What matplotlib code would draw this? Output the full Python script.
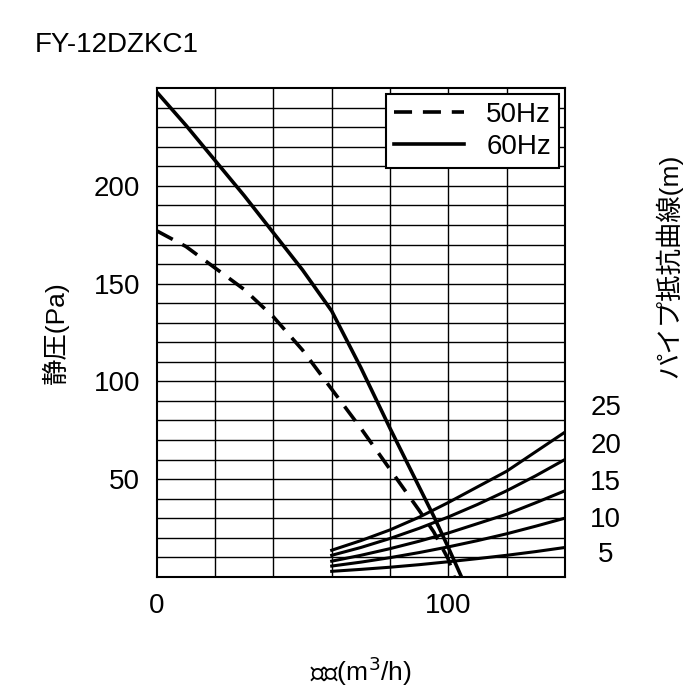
import matplotlib
matplotlib.use("Agg")
import matplotlib.pyplot as plt

plt.rcParams['font.family'] = ['Liberation Sans', 'Noto Sans CJK JP', 'DejaVu Sans']

q60 = [0, 10, 20, 30, 40, 50, 60, 70, 80, 90, 95, 100, 104.5]
p60 = [248, 231, 213, 195, 176, 157, 136, 107, 76, 46, 31, 15, 0]
q50 = [0, 10, 20, 30, 40, 50, 60, 70, 80, 90, 95, 100, 102]
p50 = [177, 169, 158, 147, 133, 116, 96, 76, 55, 34, 23, 9, 0]
pipe_q = [60, 70, 80, 90, 100, 110, 120, 130, 140]
pipe = {
    "25": [13.6, 18.5, 24, 30.5, 38, 46, 54, 64, 74],
    "20": [11, 15, 19.6, 24.8, 30.6, 37, 44, 51.7, 60],
    "15": [8, 11, 14.4, 18.2, 22.4, 27.2, 32, 37.9, 44],
    "10": [5.5, 7.5, 9.8, 12.4, 15.3, 18.5, 22, 25.9, 30],
    "5": [2.8, 3.8, 4.9, 6.2, 7.7, 9.3, 11, 12.9, 15],
}
pipe_label_y = [0.345, 0.268, 0.192, 0.117, 0.045]

fig = plt.figure(figsize=(7, 7), dpi=100)
ax = fig.add_axes([0.224, 0.176, 0.583, 0.698])
ax.set_xlim(0, 140)
ax.set_ylim(0, 250)
for x in range(20, 140, 20):
    ax.axvline(x, color='black', lw=1)
for y in range(10, 250, 10):
    ax.axhline(y, color='black', lw=1)
ax.plot(q50, p50, 'k--', lw=2.6, label='50Hz', dashes=(5, 3))
ax.plot(q60, p60, 'k-', lw=2.6, label='60Hz')
for k, v in pipe.items():
    ax.plot(pipe_q, v, 'k-', lw=2.2)
for (k, _), yy in zip(pipe.items(), pipe_label_y):
    ax.text(1.1, yy, k, transform=ax.transAxes, fontsize=20, ha='center', va='center')
ax.set_xticks([0, 100])
ax.set_yticks([50, 100, 150, 200])
ax.tick_params(length=0, labelsize=20, pad=12)
for s in ax.spines.values():
    s.set_linewidth(1.5)
leg = ax.legend(loc='upper right', fontsize=20, frameon=True, fancybox=False,
                edgecolor='black', handlelength=2.5, borderaxespad=0.2,
                borderpad=0.3, labelspacing=0.2)
leg.get_frame().set_linewidth(1.5)
leg.get_frame().set_alpha(1)
ax.set_xlabel('風量(m$^3$/h)', fontsize=19, labelpad=25)
ax.set_ylabel('静圧(Pa)', fontsize=19, labelpad=18)
fig.text(0.955, 0.62, 'パイプ抵抗曲線(m)', rotation=90, fontsize=19, ha='center', va='center')
fig.text(0.05, 0.935, 'FY-12DZKC1', fontsize=20, ha='left', va='center')
fig.savefig('out.png')
